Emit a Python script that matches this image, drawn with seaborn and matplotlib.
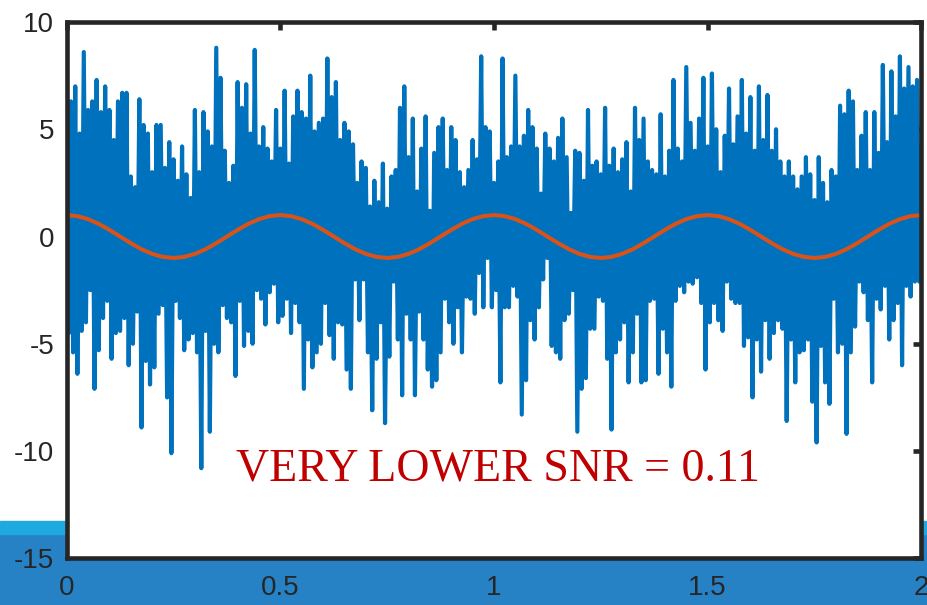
import numpy as np
import pandas as pd
import seaborn as sns
import matplotlib.pyplot as plt
from matplotlib.patches import Rectangle

# noisy trace: the upper spikes sit on t = 0, 0.01, 0.02 ...
upper_peaks = [
    4.5, 6.3, 7.0, 4.8, 8.6, 5.9, 6.3, 7.3, 5.8, 7.0, 5.9,
    4.5, 6.3, 6.7, 6.7, 2.8, 2.3, 6.4, 5.2, 4.8, 3.0,
    5.2, 5.2, 3.2, 4.4, 3.6, 2.6, 4.2, 2.9, 1.8, 5.9,
    3.0, 5.8, 4.9, 4.2, 8.8, 7.4, 4.0, 2.5, 3.3, 7.2,
    6.0, 7.1, 4.8, 8.7, 4.2, 5.1, 4.1, 3.5, 5.9, 4.1,
    6.8, 3.4, 5.6, 6.8, 5.8, 5.5, 7.5, 4.9, 5.3, 5.5,
    8.3, 6.5, 7.2, 4.5, 5.3, 4.9, 4.3, 2.5, 3.5, 3.2,
    1.4, 2.6, 1.6, 3.4, 1.3, 2.8, 3.1, 6.0, 7.0, 3.7,
    5.5, 2.1, 4.1, 5.6, 1.2, 3.9, 5.1, 5.5, 3.1, 5.1,
    4.5, 3.0, 2.3, 3.1, 4.5, 3.6, 8.4, 5.1, 4.9, 2.5,
    3.5, 8.3, 3.7, 4.2, 7.5, 4.2, 4.7, 5.9, 5.1, 4.1,
    2.0, 4.8, 4.1, 3.5, 4.6, 5.5, 3.7, 1.1, 4.0, 3.9,
    2.6, 5.9, 3.3, 3.5, 2.9, 6.0, 3.3, 4.1, 3.0, 3.6,
    4.4, 2.1, 6.0, 4.5, 5.5, 3.5, 3.1, 2.9, 5.7, 2.8,
    4.0, 7.3, 4.1, 3.5, 7.9, 5.3, 4.0, 5.5, 7.4, 4.2,
    7.6, 5.0, 3.0, 4.7, 6.9, 4.3, 5.6, 7.3, 4.8, 6.5,
    4.0, 7.0, 4.5, 6.6, 4.0, 5.0, 3.5, 2.8, 3.5, 2.8,
    2.2, 2.8, 3.7, 2.9, 1.7, 3.7, 2.5, 1.6, 3.1, 2.8,
    6.1, 5.7, 6.8, 6.3, 3.1, 4.7, 5.8, 3.1, 5.8, 3.9,
    8.0, 4.4, 7.7, 5.6, 8.4, 6.9, 7.9, 7.0, 7.3, 4.2,
]
# ... and the dips in between them (t = 0.005, 0.015, ...)
lower_dips = [
    -4.5, -5.4, -6.4, -4.4, -4.0, -2.5, -7.1, -5.3, -3.8, -3.0,
    -5.7, -4.5, -4.4, -3.8, -6.0, -5.0, -3.5, -8.9, -5.8, -6.9,
    -6.1, -3.6, -3.2, -7.5, -10.1, -3.0, -3.8, -5.3, -4.8, -4.5,
    -5.4, -10.8, -4.4, -9.1, -5.0, -5.4, -3.2, -3.8, -4.0, -6.5,
    -3.0, -5.1, -4.4, -5.0, -2.5, -2.9, -4.1, -2.6, -2.2, -4.0,
    -3.7, -2.9, -4.5, -3.1, -4.0, -7.1, -4.8, -6.1, -5.4, -5.0,
    -3.1, -4.6, -5.7, -4.0, -4.1, -6.2, -7.1, -2.0, -3.9, -2.0,
    -5.4, -8.1, -5.7, -4.0, -8.7, -5.6, -2.1, -4.8, -7.4, -3.6,
    -4.8, -7.4, -3.5, -4.8, -6.2, -7.0, -6.7, -5.4, -2.9, -4.0,
    -5.0, -3.3, -5.4, -2.8, -2.9, -3.6, -1.7, -3.3, -1.0, -3.3,
    -2.5, -6.8, -3.3, -3.3, -2.3, -2.8, -8.3, -6.7, -3.9, -4.8,
    -3.3, -2.0, -1.0, -5.1, -5.4, -5.7, -3.9, -3.6, -2.5, -9.1,
    -7.1, -6.6, -4.3, -4.3, -2.8, -3.0, -5.7, -9.0, -5.4, -4.8,
    -4.0, -6.8, -5.4, -3.6, -6.8, -6.7, -3.0, -2.9, -6.4, -4.3,
    -5.4, -7.0, -3.0, -2.3, -2.6, -2.1, -2.2, -1.9, -3.1, -6.2,
    -4.0, -3.1, -3.9, -4.4, -2.1, -2.9, -3.1, -3.1, -5.1, -4.7,
    -7.5, -4.8, -6.3, -3.9, -5.7, -4.5, -3.9, -4.3, -8.6, -4.8,
    -6.8, -5.4, -5.3, -4.8, -7.7, -9.6, -5.1, -6.8, -7.8, -2.9,
    -5.4, -5.0, -9.2, -5.4, -4.2, -2.1, -2.6, -3.9, -6.8, -2.9,
    -3.4, -2.3, -4.8, -3.9, -3.1, -6.0, -2.3, -2.8, -2.1, -2.1,
]
# clean cosine, sampled every 0.025
clean_wave = [
    1.0, 0.95, 0.81, 0.59, 0.31, 0.0, -0.31, -0.59, -0.81, -0.95,
    -1.0, -0.95, -0.81, -0.59, -0.31, 0.0, 0.31, 0.59, 0.81, 0.95,
    1.0, 0.95, 0.81, 0.59, 0.31, 0.0, -0.31, -0.59, -0.81, -0.95,
    -1.0, -0.95, -0.81, -0.59, -0.31, 0.0, 0.31, 0.59, 0.81, 0.95,
    1.0, 0.95, 0.81, 0.59, 0.31, 0.0, -0.31, -0.59, -0.81, -0.95,
    -1.0, -0.95, -0.81, -0.59, -0.31, 0.0, 0.31, 0.59, 0.81, 0.95,
    1.0, 0.95, 0.81, 0.59, 0.31, 0.0, -0.31, -0.59, -0.81, -0.95,
    -1.0, -0.95, -0.81, -0.59, -0.31, 0.0, 0.31, 0.59, 0.81, 0.95,
    1.0,
]
x_ticks = [0, 0.5, 1, 1.5, 2]
x_tick_labels = ['0', '0.5', '1', '1.5', '2']
y_ticks = [-15, -10, -5, 0, 5, 10]
y_tick_labels = ['-15', '-10', '-5', '0', '5', '10']
snr_text = 'VERY LOWER SNR = 0.11'

# put the spikes and dips back in time order
noisy = np.empty(len(upper_peaks) + len(lower_dips))
noisy[0::2] = upper_peaks
noisy[1::2] = lower_dips
noisy_df = pd.DataFrame({'t': np.linspace(0, 2, len(noisy)), 'x': noisy})
clean_df = pd.DataFrame({'t': np.linspace(0, 2, len(clean_wave)), 'x': clean_wave})

sns.set_style('white')
plt.rcParams['font.family'] = ['Liberation Sans', 'DejaVu Sans']

fig = plt.figure(figsize=(9.28, 6.05), dpi=100)
# blue page background peeking in under the plot
fig.add_artist(Rectangle((0, 0), 1, 71 / 605, transform=fig.transFigure,
                         color='#2682C5', zorder=0))
fig.add_artist(Rectangle((0, 71 / 605), 1, 13 / 605, transform=fig.transFigure,
                         color='#1FA9E1', zorder=0))

ax = fig.add_axes([66.7 / 928, 1 - 558.3 / 605, 854.6 / 928, 536.3 / 605])
ax.set_zorder(1)
ax.set_facecolor('white')

sns.lineplot(data=noisy_df, x='t', y='x', ax=ax, color='#0072BD', linewidth=3.0,
             solid_joinstyle='round', solid_capstyle='round')
sns.lineplot(data=clean_df, x='t', y='x', ax=ax, color='#D95319', linewidth=2.9)

ax.set_xlim(0, 2)
ax.set_ylim(-15, 10)
ax.set_xticks(x_ticks)
ax.set_xticklabels(x_tick_labels)
ax.set_yticks(y_ticks)
ax.set_yticklabels(y_tick_labels)
ax.set_xlabel('')
ax.set_ylabel('')

for s in ax.spines.values():
    s.set_visible(True)
    s.set_linewidth(3.3)
    s.set_color('#262626')
ax.tick_params(direction='in', length=6, width=3.3, color='#262626',
               labelsize=20, labelcolor='#262626',
               top=True, right=True)
ax.tick_params(axis='x', pad=12)
ax.tick_params(axis='y', pad=9)

ax.text(0.505, 0.146, snr_text, transform=ax.transAxes, ha='center', va='baseline',
        color='#C00000', fontsize=33, family=['Liberation Serif', 'DejaVu Serif'])

fig.savefig('out.png', dpi=100, facecolor='white')
